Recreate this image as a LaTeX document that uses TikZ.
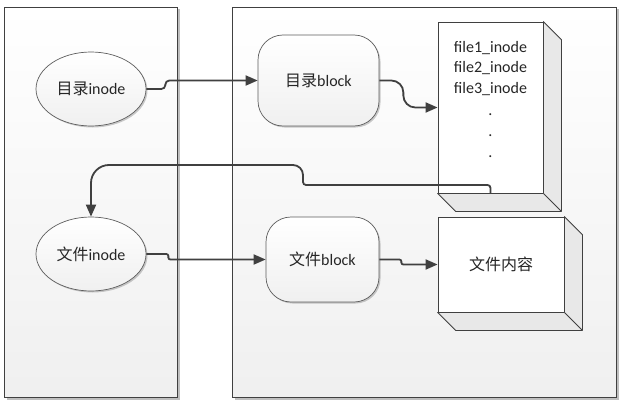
\documentclass[tikz,border=0pt]{standalone}
\usepackage{fontspec}
\setmainfont{Carlito}
\newfontfamily\cjk{Noto Sans CJK SC}
\usetikzlibrary{shapes.geometric,arrows.meta,shadows,calc}
\definecolor{ln}{HTML}{404040}
\definecolor{txt}{HTML}{262626}
\begin{document}
\begin{tikzpicture}[x=1pt,y=-1pt,
  every node/.style={font=\fontsize{16}{20}\selectfont, text=txt},
  panel/.style={draw=ln, line width=0.9pt, inner sep=0pt, top color=white, bottom color=black!6,
    drop shadow={shadow xshift=2.5pt, shadow yshift=-2.5pt, opacity=0.25, fill=black}},
  ell/.style={ellipse, draw=ln!85, line width=0.7pt, inner sep=0pt, minimum width=110, minimum height=74,
    top color=white, bottom color=black!6,
    drop shadow={shadow xshift=1.5pt, shadow yshift=-1.5pt, opacity=0.2, fill=black}},
  blk/.style={rectangle, rounded corners=25pt, draw=ln!85, line width=0.7pt, inner sep=0pt,
    top color=white, bottom color=black!6,
    drop shadow={shadow xshift=1.5pt, shadow yshift=-1.5pt, opacity=0.2, fill=black}},
  front/.style={rectangle, draw=ln, line width=0.8pt, fill=white, inner sep=0pt},
  side/.style={draw=ln, line width=0.8pt, fill=black!9, line join=round},
  conn/.style={draw=ln, line width=1.8pt, -{Triangle[length=12pt,width=10pt]}}
]
\useasboundingbox (0,0) rectangle (631,404);
\fill[white] (0,0) rectangle (631,404);
% panels
\node[panel, minimum width=173, minimum height=390] (lp) at (90.5,202) {};
\node[panel, minimum width=384, minimum height=390] (rp) at (424,202) {};
% left nodes
\node[ell] (i1) at (91,89) {{\cjk 目录}inode};
\node[ell] (i2) at (91,254) {{\cjk 文件}inode};
% blocks
\node[blk, minimum width=121, minimum height=91] (b1) at (318.5,80.5) {{\cjk 目录}block};
\node[blk, minimum width=113, minimum height=85] (b2) at (322.5,259.5) {{\cjk 文件}block};
% file list 3D box
\node[front, minimum width=105, minimum height=171] (fl) at (490.5,107.5) {};
\draw[side] (fl.north east) -- ++(18,18) -- ($(fl.south east)+(18,18)$) -- ($(fl.south west)+(18,18)$) -- (fl.south west) -- (fl.south east) -- cycle;
\draw[side, fill=none] (fl.south east) -- ++(18,18);
\node[anchor=north, align=center, inner sep=0pt, font=\fontsize{16}{20.5}\selectfont] (fltext) at (490.5,41)
  {file1\_inode\\file2\_inode\\file3\_inode\\[2pt].\\[0.5pt].\\[0.5pt].};
% file content 3D box
\node[front, minimum width=126, minimum height=95] (fc) at (501,264.5) {};
\draw[side] (fc.north east) -- ++(18,18) -- ($(fc.south east)+(18,18)$) -- ($(fc.south west)+(18,18)$) -- (fc.south west) -- (fc.south east) -- cycle;
\draw[side, fill=none] (fc.south east) -- ++(18,18);
\node at (fc.center) {\cjk 文件内容};
% connectors
\coordinate (c1) at (303,185);
\coordinate (c2) at (250,165);
\draw[conn, rounded corners=4pt] (i1.east) -- ++(19,0) |- (b1.west);
\draw[conn, rounded corners=12pt] (b1.east) -- ++(24,0) |- (fl.west);
\draw[conn] (fl.south) [rounded corners=3pt] |- (c1) [rounded corners=10pt] |- (c2) [rounded corners=18pt] -| (i2.north);
\draw[conn, rounded corners=2pt] (i2.east) -- ++(22,0) |- (b2.west);
\draw[conn, rounded corners=2pt] (b2.east) -- ++(22,0) |- (fc.west);
\end{tikzpicture}
\end{document}
